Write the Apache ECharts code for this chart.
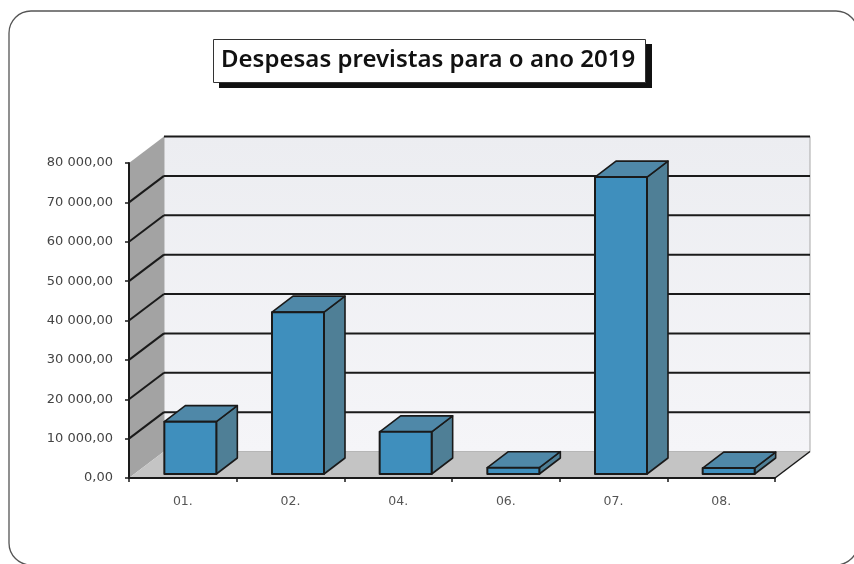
<!DOCTYPE html>
<html><head><meta charset="utf-8">
<style>html,body{margin:0;padding:0;background:#fff}#c{width:854px;height:564px}</style>
<script src="https://cdn.jsdelivr.net/npm/echarts@6/dist/echarts.min.js"></script>
</head><body><div id="c"></div>
<script>
const titleText = 'Despesas previstas para o ano 2019';
const categories = ['01.', '02.', '04.', '06.', '07.', '08.'];
const values = [13300, 41100, 10700, 1600, 75400, 1500];
const gridValues = [10000, 20000, 30000, 40000, 50000, 60000, 70000, 80000];

const WALL_DX = 35, WALL_DY = -26.5;
const BAR_DX = 21, BAR_DY = -16, BAR_INSET = 4, BAR_W = 52, BAR_SHIFT = 7.5;
const LINE = '#1a1a1a';

function fmt(v) {
  return String(v).replace(/\B(?=(\d{3})+$)/g, ' ') + ',00';
}
function poly(points, fill, stroke, lw) {
  return { type: 'polygon', shape: { points: points },
    style: { fill: fill, stroke: stroke || null, lineWidth: lw || 0, lineJoin: 'round' } };
}
function line(x1, y1, x2, y2, w) {
  return { type: 'line', shape: { x1, y1, x2, y2 }, style: { stroke: LINE, lineWidth: w || 2 } };
}
function renderWalls(params, api) {
  const cs = params.coordSys;
  const x0 = cs.x, x1 = cs.x + cs.width, yT = cs.y, yB = cs.y + cs.height;
  const d = WALL_DX, e = WALL_DY;
  const kids = [
    poly([[x0 + d, yT + e], [x1 + d, yT + e], [x1 + d, yB + e], [x0 + d, yB + e]],
      { type: 'linear', x: 0, y: 0, x2: 0, y2: 1, colorStops: [{ offset: 0, color: '#ecedf1' }, { offset: 1, color: '#f5f5f8' }] },
      '#a8a8a8', 1),
    poly([[x0, yT], [x0 + d, yT + e], [x0 + d, yB + e], [x0, yB]], '#a3a3a3'),
    poly([[x0, yB], [x0 + d, yB + e], [x1 + d, yB + e], [x1, yB]], '#c4c4c4', null)
  ];
  kids.push(line(x1, yB, x1 + d, yB + e, 1.5));
  gridValues.forEach(function (v) {
    const y = api.coord([0, v])[1];
    const top = v === gridValues[gridValues.length - 1];
    if (!top) kids.push(line(x0, y, x0 + d, y + e, 2));
    kids.push(line(x0 + d, y + e, x1 + d, y + e, 2));
  });
  return { type: 'group', children: kids };
}
function renderBar(params, api) {
  const i = api.value(0), v = api.value(1);
  const top = api.coord([i, v]), base = api.coord([i, 0]);
  const xl = base[0] - BAR_W / 2 + BAR_SHIFT, xr = xl + BAR_W;
  const yb = base[1] - BAR_INSET, yt = top[1] - BAR_INSET;
  const dx = BAR_DX, dy = BAR_DY;
  return { type: 'group', children: [
    poly([[xr, yt], [xr + dx, yt + dy], [xr + dx, yb + dy], [xr, yb]], '#4f7f96', LINE, 1.6),
    poly([[xl, yt], [xl + dx, yt + dy], [xr + dx, yt + dy], [xr, yt]], '#4f88a8', LINE, 1.6),
    poly([[xl, yt], [xr, yt], [xr, yb], [xl, yb]], '#3f8fbd', LINE, 2)
  ] };
}

const chart = echarts.init(document.getElementById('c'), null, { renderer: 'canvas' });
chart.setOption({
  animation: false,
  backgroundColor: '#ffffff',
  grid: { left: 129, right: 79, top: 163, bottom: 86, containLabel: false },
  title: {
    text: titleText, left: 221, top: 48,
    padding: 0,
    textStyle: { fontFamily: '"Noto Sans"', fontSize: 24, fontWeight: 600, color: '#111111' }
  },
  graphic: [
    { type: 'rect', silent: true, z: 1,
      shape: { x: 9, y: 11, width: 849, height: 554, r: 22 },
      style: { fill: 'none', stroke: '#555555', lineWidth: 1.3 } },
    { type: 'rect', silent: true, z: 2,
      shape: { x: 219, y: 44, width: 433, height: 44 },
      style: { fill: '#111111' } },
    { type: 'rect', silent: true, z: 3,
      shape: { x: 213.5, y: 39.5, width: 432, height: 43 },
      style: { fill: '#ffffff', stroke: '#333333', lineWidth: 1 } }
  ],
  xAxis: {
    type: 'category', data: categories, z: 6,
    axisLine: { lineStyle: { color: LINE, width: 2 } },
    axisTick: { show: true, length: 4, lineStyle: { color: LINE, width: 1.5 } },
    axisLabel: { color: '#555555', fontFamily: '"DejaVu Sans"', fontSize: 12.5, margin: 17 }
  },
  yAxis: {
    type: 'value', min: 0, max: 80000, interval: 10000, z: 6,
    splitLine: { show: false },
    axisLine: { show: true, lineStyle: { color: LINE, width: 2 } },
    axisTick: { show: true, length: 4, lineStyle: { color: LINE, width: 1.5 } },
    axisLabel: { color: '#444444', fontFamily: '"DejaVu Sans"', fontSize: 13, margin: 16, formatter: fmt }
  },
  series: [
    { type: 'custom', coordinateSystem: 'cartesian2d', clip: false, silent: true, z: 1,
      data: [[0, 0]], encode: { x: 0, y: 1 }, renderItem: renderWalls },
    { type: 'custom', coordinateSystem: 'cartesian2d', clip: false, silent: true, z: 3,
      data: values.map(function (v, i) { return [i, v]; }), encode: { x: 0, y: 1 }, renderItem: renderBar }
  ]
});
</script></body></html>
